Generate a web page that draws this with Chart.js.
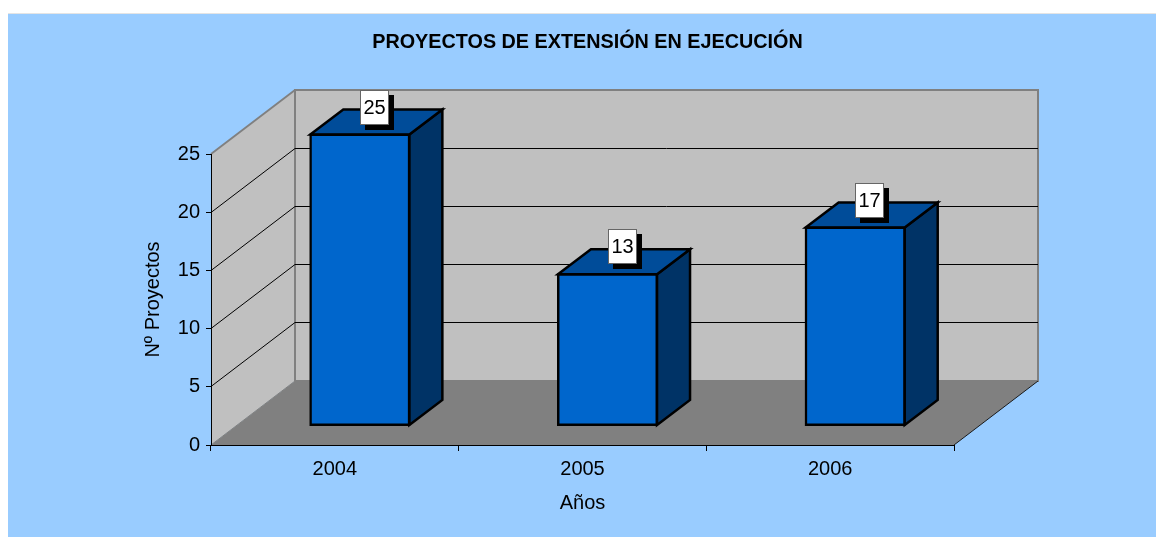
<!DOCTYPE html>
<html>
<head>
<meta charset="utf-8">
<title>Proyectos de extensión en ejecución</title>
<script src="https://cdn.jsdelivr.net/npm/chart.js@4"></script>
<style>
    html, body { margin: 0; padding: 0; background: #fff; overflow: hidden; }
    #chart { position: absolute; left: 8px; top: 14px; background: #99ccff; box-shadow: 0 -1px 0 #e4e4e4; }
</style>
</head>
<body>
<canvas id="chart" width="1148" height="523"></canvas>
<script>
const categories = ['2004', '2005', '2006'];
const proyectos = [25, 13, 17];
const yMax = 25;
const yStep = 5;

// depth of the fake 3D box and of the bars, in px
const wallDepth = { x: 84, y: 64 };
const barDepth = { x: 33, y: 25 };
const barShift = { x: 25, y: 19.5 };

const fontName = '"Liberation Sans", Arial, sans-serif';
const fontSize = 20;
const titleSize = 19.8;
const barLine = 2.5;

Chart.defaults.font.family = fontName;
Chart.defaults.color = '#000';

function poly(ctx, pts, fill, stroke, lw) {
    ctx.beginPath();
    pts.forEach((p, i) => i ? ctx.lineTo(p[0], p[1]) : ctx.moveTo(p[0], p[1]));
    ctx.closePath();
    if (fill) {
        ctx.fillStyle = fill;
        ctx.fill();
    }
    if (stroke) {
        ctx.strokeStyle = stroke;
        ctx.lineWidth = lw;
        ctx.lineJoin = 'miter';
        ctx.stroke();
    }
}

// walls, floor and grid lines
const box3d = {
    id: 'box3d',
    afterLayout(chart) {
        // title sits a bit right of the panel centre
        chart.titleBlock.left = 0;
        chart.titleBlock.right = 1159;
    },
    beforeDraw(chart) {
        const ctx = chart.ctx;
        const { left, right, top, bottom } = chart.chartArea;
        const dx = wallDepth.x, dy = wallDepth.y;
        ctx.save();
        poly(ctx, [[left, bottom], [left + dx, bottom - dy], [right + dx, bottom - dy], [right, bottom]], '#808080');
        poly(ctx, [[left + dx, top - dy], [right + dx, top - dy], [right + dx, bottom - dy], [left + dx, bottom - dy]], '#c0c0c0', '#808080', 2);
        poly(ctx, [[left, top], [left + dx, top - dy], [left + dx, bottom - dy], [left, bottom]], '#c0c0c0');

        ctx.strokeStyle = '#808080';
        ctx.lineWidth = 2;
        ctx.beginPath();
        ctx.moveTo(left, top);
        ctx.lineTo(left + dx, top - dy);
        ctx.stroke();
        ctx.beginPath();
        ctx.moveTo(left + dx, top - dy);
        ctx.lineTo(left + dx, bottom - dy);
        ctx.stroke();
        ctx.beginPath();
        ctx.moveTo(left, bottom);
        ctx.lineTo(left + dx, bottom - dy);
        ctx.lineWidth = 1;
        ctx.stroke();

        ctx.strokeStyle = '#000';
        ctx.lineWidth = 1;
        chart.scales.y.ticks.forEach(t => {
            if (t.value === 0 || t.value === yMax) return;
            const y = Math.floor(chart.scales.y.getPixelForValue(t.value)) + 0.5;
            ctx.beginPath();
            ctx.moveTo(left, y);
            ctx.lineTo(left + dx, y - dy);
            ctx.lineTo(right + dx, y - dy);
            ctx.stroke();
        });

        // front right edge of the floor
        ctx.strokeStyle = '#1a1a1a';
        ctx.beginPath();
        ctx.moveTo(right, bottom);
        ctx.lineTo(right + dx, bottom - dy);
        ctx.stroke();
        ctx.restore();
    },
    beforeDatasetsDraw(chart) {
        const ctx = chart.ctx;
        ctx.save();
        ctx.translate(barShift.x, -barShift.y);
        chart.getDatasetMeta(0).data.forEach(bar => {
            const l = bar.x - bar.width / 2, r = bar.x + bar.width / 2;
            const dx = barDepth.x, dy = barDepth.y;
            poly(ctx, [[r, bar.y], [r + dx, bar.y - dy], [r + dx, bar.base - dy], [r, bar.base]], '#003366', '#000', barLine);
            poly(ctx, [[l, bar.y], [l + dx, bar.y - dy], [r + dx, bar.y - dy], [r, bar.y]], '#004c99', '#000', barLine);
        });
    },
    afterDatasetsDraw(chart) {
        const ctx = chart.ctx;
        ctx.restore();
        ctx.save();
        ctx.font = fontSize + 'px ' + fontName;
        ctx.textAlign = 'center';
        ctx.textBaseline = 'middle';
        chart.getDatasetMeta(0).data.forEach((bar, i) => {
            const cx = bar.x + barShift.x + 14.5;
            const cy = bar.y - barShift.y - 27.5;
            const w = 29, h = 35;
            const x = Math.round(cx - w / 2), y = Math.round(cy - h / 2);
            ctx.fillStyle = '#000';
            ctx.fillRect(x + 5, y + 5, w, h);
            ctx.fillStyle = '#fff';
            ctx.fillRect(x, y, w, h);
            ctx.strokeStyle = '#666';
            ctx.lineWidth = 1;
            ctx.strokeRect(x + 0.5, y + 0.5, w - 1, h - 1);
            ctx.fillStyle = '#000';
            ctx.fillText(String(proyectos[i]), x + w / 2, y + h / 2 + 1);
        });
        ctx.restore();
    }
};

new Chart(document.querySelector('#chart'), {
    type: 'bar',
    data: {
        labels: categories,
        datasets: [
            {
                label: 'Nº Proyectos',
                data: proyectos,
                backgroundColor: '#0066cc',
                borderColor: '#000',
                borderWidth: barLine,
                borderSkipped: false,
                inflateAmount: 1,
                barPercentage: 0.4,
                categoryPercentage: 1,
                clip: false
            }
        ]
    },
    options: {
        responsive: false,
        animation: false,
        layout: {
            padding: { left: 0, right: 202, top: 0, bottom: 0 }
        },
        plugins: {
            legend: { display: false },
            tooltip: { enabled: false },
            title: {
                display: true,
                text: 'PROYECTOS DE EXTENSIÓN EN EJECUCIÓN',
                color: '#000',
                font: { size: titleSize, weight: 'bold', lineHeight: 1 },
                padding: { top: 29 - titleSize / 2, bottom: 140 - 29 - titleSize / 2 }
            }
        },
        scales: {
            x: {
                grid: { drawOnChartArea: false, color: '#000', tickLength: 6 },
                border: { color: '#000', width: 1 },
                ticks: { font: { size: fontSize }, padding: 6, maxRotation: 0 },
                title: {
                    display: true,
                    text: 'Años',
                    font: { size: fontSize, lineHeight: 1 },
                    padding: { top: 0, bottom: 523 - 489 - fontSize / 2 }
                },
                afterFit(scale) {
                    scale.height = 92;
                }
            },
            y: {
                min: 0,
                max: yMax,
                grid: { drawOnChartArea: false, color: '#000', tickLength: 5 },
                border: { color: '#000', width: 1 },
                ticks: { stepSize: yStep, font: { size: fontSize }, padding: 6 },
                title: {
                    display: true,
                    text: 'Nº Proyectos',
                    font: { size: fontSize, lineHeight: 1 },
                    padding: { top: 145 - fontSize / 2, bottom: 0 }
                },
                afterFit(scale) {
                    scale.width = 203;
                }
            }
        }
    },
    plugins: [box3d]
});
</script>
</body>
</html>
